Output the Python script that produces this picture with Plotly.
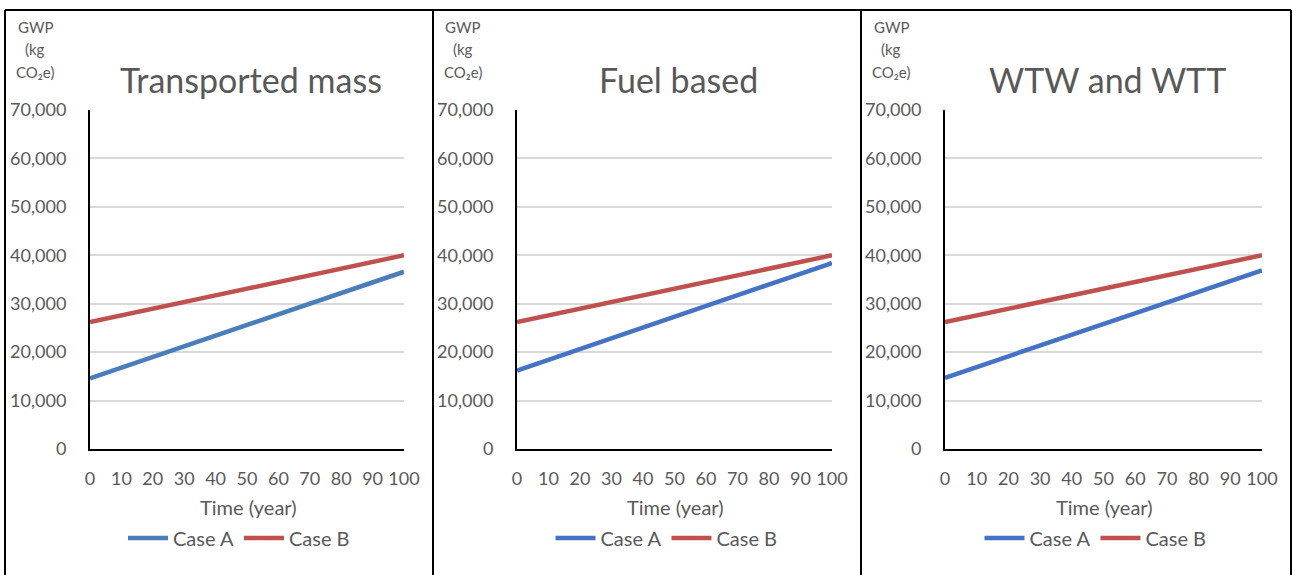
import plotly.graph_objects as go

years = [0, 10, 20, 30, 40, 50, 60, 70, 80, 90, 100]

titles = ["Transported mass", "Fuel based", "WTW and WTT"]

case_a_mass = [14600, 16800, 19000, 21200, 23400, 25600, 27800, 30000, 32200, 34400, 36600]
case_b_mass = [26200, 27600, 29000, 30300, 31700, 33100, 34500, 35900, 37200, 38600, 40000]

case_a_fuel = [16200, 18400, 20600, 22900, 25100, 27300, 29500, 31700, 34000, 36200, 38400]
case_b_fuel = [26200, 27600, 29000, 30300, 31700, 33100, 34500, 35900, 37200, 38600, 40000]

case_a_wtw = [14700, 16900, 19100, 21400, 23600, 25800, 28000, 30200, 32500, 34700, 36900]
case_b_wtw = [26200, 27600, 29000, 30300, 31700, 33100, 34500, 35900, 37200, 38600, 40000]

y_ticks = [0, 10000, 20000, 30000, 40000, 50000, 60000, 70000]
y_tick_labels = ["0", "10,000", "20,000", "30,000", "40,000", "50,000", "60,000", "70,000"]
x_ticks = [0, 10, 20, 30, 40, 50, 60, 70, 80, 90, 100]
y_title_lines = ["GWP", "(kg", "CO₂e)"]

W, H = 1292, 575
FONT = "Lato, Carlito, Calibri, sans-serif"
GRAY = "#595959"


def px(x):
    return x / W


def py(y):
    return 1 - y / H


color_a = ["#4a7ebb", "#4472c4", "#4472c4"]
color_b = "#c0504d"

series = [(case_a_mass, case_b_mass), (case_a_fuel, case_b_fuel), (case_a_wtw, case_b_wtw)]

px_left = [90, 517, 945]
px_right = [404, 832, 1262]
y_top, y_bot = 110, 449
panel_edges = [5, 433, 861, 1291]

fig = go.Figure()
layout = dict(
    width=W, height=H,
    margin=dict(l=0, r=0, t=0, b=0, autoexpand=False),
    paper_bgcolor="white", plot_bgcolor="white",
    font=dict(family=FONT, color=GRAY, size=17),
    showlegend=True,
)

annotations = []
shapes = []

for i in range(3):
    suffix = "" if i == 0 else str(i + 1)
    xa = "x" + suffix
    ya = "y" + suffix
    legend_name = "legend" + suffix
    a_vals, b_vals = series[i]
    fig.add_trace(go.Scatter(x=years, y=a_vals, mode="lines", name="Case A",
                             line=dict(color=color_a[i], width=4.5),
                             xaxis=xa, yaxis=ya, legend=legend_name))
    fig.add_trace(go.Scatter(x=years, y=b_vals, mode="lines", name="Case B",
                             line=dict(color=color_b, width=4.5),
                             xaxis=xa, yaxis=ya, legend=legend_name))
    dom_x = [px(px_left[i]), px(px_right[i])]
    dom_y = [py(y_bot), py(y_top)]
    layout["xaxis" + suffix] = dict(
        domain=dom_x, range=[0, 100], tickvals=x_ticks, showgrid=False,
        showline=True, linecolor="black", linewidth=2, ticks="",
        tickfont=dict(size=18, color=GRAY), ticklabelstandoff=12,
        anchor=ya, zeroline=False, fixedrange=True, automargin=False,
    )
    layout["yaxis" + suffix] = dict(
        domain=dom_y, range=[0, 70000], tickvals=y_ticks, ticktext=y_tick_labels,
        showgrid=True, gridcolor="#d9d9d9", gridwidth=1.5,
        showline=True, linecolor="black", linewidth=2, ticks="",
        tickfont=dict(size=18, color=GRAY), ticklabelstandoff=18,
        anchor=xa, zeroline=False, fixedrange=True, automargin=False,
    )
    cx = (px_left[i] + px_right[i]) / 2
    layout[legend_name] = dict(
        orientation="h", x=px(cx - 8), xanchor="center", y=py(538), yanchor="middle",
        font=dict(size=20, color=GRAY), bgcolor="rgba(0,0,0,0)", itemwidth=40,
        tracegroupgap=0,
    )
    annotations.append(dict(text=titles[i], x=px(cx + 4), y=py(80),
                            xref="paper", yref="paper", showarrow=False,
                            xanchor="center", yanchor="middle",
                            font=dict(size=34, color=GRAY, family=FONT)))
    left_edge = panel_edges[i]
    for txt, yy in zip(y_title_lines, [27, 49, 72]):
        annotations.append(dict(text=txt, x=px(left_edge + 30), y=py(yy),
                                xref="paper", yref="paper", showarrow=False,
                                xanchor="center", yanchor="middle", align="center",
                                font=dict(size=15, color=GRAY, family=FONT)))
    annotations.append(dict(text="Time (year)", x=px(cx + 1), y=py(507),
                            xref="paper", yref="paper", showarrow=False,
                            xanchor="center", yanchor="middle",
                            font=dict(size=20, color=GRAY, family=FONT)))

shapes.append(dict(type="line", xref="paper", yref="paper",
                   x0=px(panel_edges[0]), x1=px(panel_edges[-1]), y0=py(10), y1=py(10),
                   line=dict(color="black", width=2)))
for e in panel_edges:
    shapes.append(dict(type="line", xref="paper", yref="paper",
                       x0=px(e), x1=px(e), y0=py(10), y1=py(580),
                       line=dict(color="black", width=2)))

layout["annotations"] = annotations
layout["shapes"] = shapes
fig.update_layout(**layout)

fig.write_html("out.html")
